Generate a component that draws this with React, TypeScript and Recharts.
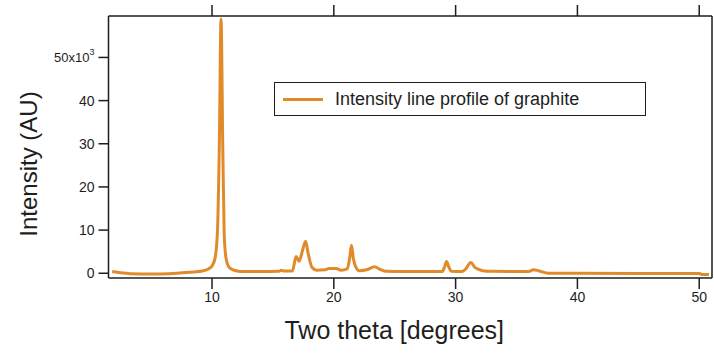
import React from 'react';
import { LineChart, Line, XAxis, YAxis, Legend } from 'recharts';

// two theta positions (degrees) and measured intensity (counts)
const twoTheta = [
  1.8, 2.5, 3.3, 5.0, 6.5, 7.5, 8.5, 9.2, 9.7, 10.0, 10.25, 10.45, 10.6, 10.74, 10.88, 11.0, 11.15, 11.4,
  11.8, 12.5, 14.0, 15.5, 15.7, 15.9, 16.6, 16.9, 17.15, 17.45, 17.68, 17.9, 18.2, 18.6, 19.3, 19.6,
  20.2, 20.6, 21.1, 21.3, 21.45, 21.6, 21.8, 22.1, 22.7, 23.35, 23.8, 24.3, 26.0, 28.9, 29.1, 29.25,
  29.45, 29.65, 30.5, 30.8, 31.25, 31.6, 31.9, 32.2, 33.0, 36.0, 36.4, 36.8, 37.6, 40.0, 45.0, 50.0,
  50.3, 50.8,
];
const intensity = [
  400, 100, -100, -150, -100, 100, 300, 500, 1000, 1700, 3500, 10000, 30000, 58900, 30000, 9000, 3500, 1400,
  700, 400, 400, 450, 700, 500, 500, 3900, 2800, 5500, 7400, 4500, 1400, 700, 800, 1100,
  1100, 700, 1000, 3500, 6500, 3500, 1500, 600, 800, 1500, 900, 450, 400, 400, 1500, 2700,
  1400, 450, 400, 900, 2500, 1300, 900, 600, 450, 400, 800, 600, 0, 0, -50, -50,
  -300, -300,
];

const xTicks = [10, 20, 30, 40, 50];
const yTicks = [0, 10000, 20000, 30000, 40000, 50000];
const seriesName = 'Intensity line profile of graphite';

const data = twoTheta.map((t, i) => ({ t, v: intensity[i] }));

const ORANGE = '#E08A2A';
const INK = '#1e1e1e';
const FONT = '"Liberation Sans", Arial, sans-serif';

const YTick = (props: any) => {
  const { x, y, payload } = props;
  const v = payload.value;
  if (v === 50000) {
    return (
      <text x={x} y={y} dy={5} textAnchor="end" fontSize={13} fill={INK} fontFamily={FONT}>
        50x10<tspan dy={-7} fontSize={9}>3</tspan>
      </text>
    );
  }
  return (
    <text x={x} y={y} dy={5} textAnchor="end" fontSize={14} fill={INK} fontFamily={FONT}>
      {v / 1000}
    </text>
  );
};

const LegendBox = () => (
  <div
    style={{
      width: 370,
      height: 32,
      border: `1.5px solid ${INK}`,
      background: '#fff',
      display: 'flex',
      alignItems: 'center',
      fontFamily: FONT,
      fontSize: 18,
      color: INK,
    }}
  >
    <span style={{ display: 'inline-block', width: 40, height: 3, background: ORANGE, marginLeft: 8, marginRight: 12 }} />
    {seriesName}
  </div>
);

export default function App() {
  return (
    <div style={{ position: 'absolute', left: 0, top: 0, background: '#fff' }}>
      <LineChart width={714} height={353} data={data} margin={{ top: 0, right: 1, bottom: 0, left: 0 }}>
        <XAxis
          dataKey="t"
          type="number"
          domain={[1.5, 51.05]}
          ticks={xTicks}
          allowDataOverflow
          height={75}
          tickSize={11}
          tickMargin={3}
          stroke={INK}
          strokeWidth={1.5}
          tick={{ fontSize: 14, fill: INK, fontFamily: FONT }}
          label={({ viewBox }: any) => (
            <text
              x={viewBox.x + viewBox.width / 2 - 16}
              y={viewBox.y + 61}
              textAnchor="middle"
              fontSize={25}
              fill={INK}
              fontFamily={FONT}
            >
              Two theta [degrees]
            </text>
          )}
        />
        <XAxis
          xAxisId="top"
          orientation="top"
          dataKey="t"
          type="number"
          domain={[1.5, 51.05]}
          ticks={xTicks}
          allowDataOverflow
          height={16}
          tickSize={11}
          stroke={INK}
          strokeWidth={1.5}
          tick={() => <g />}
        />
        <YAxis
          type="number"
          domain={[-1100, 59600]}
          ticks={yTicks}
          allowDataOverflow
          width={108.5}
          tickSize={10}
          tickMargin={4}
          stroke={INK}
          strokeWidth={1.5}
          tick={<YTick />}
          label={({ viewBox }: any) => (
            <text
              x={28}
              y={viewBox.y + 148}
              transform={`rotate(-90 28 ${viewBox.y + 148})`}
              textAnchor="middle"
              dominantBaseline="central"
              fontSize={24}
              fill={INK}
              fontFamily={FONT}
            >
              Intensity (AU)
            </text>
          )}
        />
        <YAxis
          yAxisId="right"
          orientation="right"
          domain={[0, 1]}
          width={1}
          tick={false}
          tickLine={false}
          stroke={INK}
          strokeWidth={1.5}
        />
        <Legend
          layout="horizontal"
          verticalAlign="middle"
          align="center"
          content={<LegendBox />}
          wrapperStyle={{ position: 'absolute', left: 274, top: 82, width: 'auto' }}
        />
        <Line
          type="monotone"
          dataKey="v"
          name={seriesName}
          stroke={ORANGE}
          strokeWidth={3}
          dot={false}
          isAnimationActive={false}
        />
      </LineChart>
    </div>
  );
}
